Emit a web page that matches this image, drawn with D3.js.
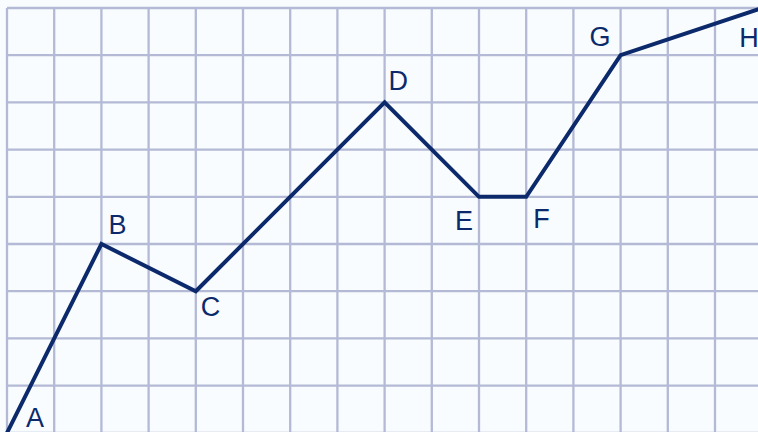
<!DOCTYPE html>
<html>
<head>
<meta charset="utf-8">
<script src="https://cdn.jsdelivr.net/npm/d3@7.9.0/dist/d3.min.js"></script>
<style>
  html, body { margin: 0; padding: 0; background: #f8fcfe; }
  svg { display: block; }
</style>
</head>
<body>
<div id="chart"></div>
<script>
// path vertices, in grid units (x = column, y = row counted up from the bottom)
const pointLabels = ['A', 'B', 'C', 'D', 'E', 'F', 'G', 'H'];
const pointX = [0, 2, 4, 8, 10, 11, 13, 16];
const pointY = [0, 4, 3, 7, 5, 5, 8, 9];

const gridCols = d3.range(0, 17);
const gridRows = d3.range(0, 10);

const width = 758;
const height = 432;
const cell = 47.2;
const gridLeft = 7;
const gridTop = 8;

const xScale = d3.scaleLinear()
    .domain([0, 16])
    .range([gridLeft, gridLeft + 16 * cell]);

const yScale = d3.scaleLinear()
    .domain([0, 9])
    .range([gridTop + 9 * cell, gridTop]);

const svg = d3.select('#chart')
    .append('svg')
    .attr('width', width)
    .attr('height', height)
    .attr('viewBox', `0 0 ${width} ${height}`);

svg.append('rect')
    .attr('width', width)
    .attr('height', height)
    .attr('fill', '#f8fcfe');

// grid
const grid = svg.append('g').attr('class', 'grid')
    .attr('stroke', '#b4bad6')
    .attr('stroke-width', 2.3);

grid.selectAll('line.v')
    .data(gridCols)
    .join('line')
    .attr('class', 'v')
    .attr('x1', d => xScale(d))
    .attr('x2', d => xScale(d))
    .attr('y1', yScale(9))
    .attr('y2', yScale(0));

grid.selectAll('line.h')
    .data(gridRows)
    .join('line')
    .attr('class', 'h')
    .attr('y1', d => yScale(d))
    .attr('y2', d => yScale(d))
    .attr('x1', xScale(0))
    .attr('x2', xScale(16));

const points = pointLabels.map((label, i) => ({ label, x: pointX[i], y: pointY[i] }));

const line = d3.line()
    .x(d => xScale(d.x))
    .y(d => yScale(d.y));

svg.append('path')
    .datum(points)
    .attr('d', line)
    .attr('fill', 'none')
    .attr('stroke', '#0c2a6b')
    .attr('stroke-width', 4)
    .attr('stroke-linejoin', 'miter');

// where each letter sits relative to its vertex
const labelOffset = {
    A: [19, -6],
    B: [7, -10],
    C: [5, 25],
    D: [4, -12],
    E: [-24, 33],
    F: [7, 31],
    G: [-31, -9],
    H: [-23, 39]
};

svg.append('g')
    .selectAll('text')
    .data(points)
    .join('text')
    .attr('x', d => xScale(d.x) + labelOffset[d.label][0])
    .attr('y', d => yScale(d.y) + labelOffset[d.label][1])
    .attr('fill', '#0c2a6b')
    .style('font-family', '"Liberation Sans", Arial, sans-serif')
    .style('font-size', '27px')
    .text(d => d.label);
</script>
</body>
</html>
